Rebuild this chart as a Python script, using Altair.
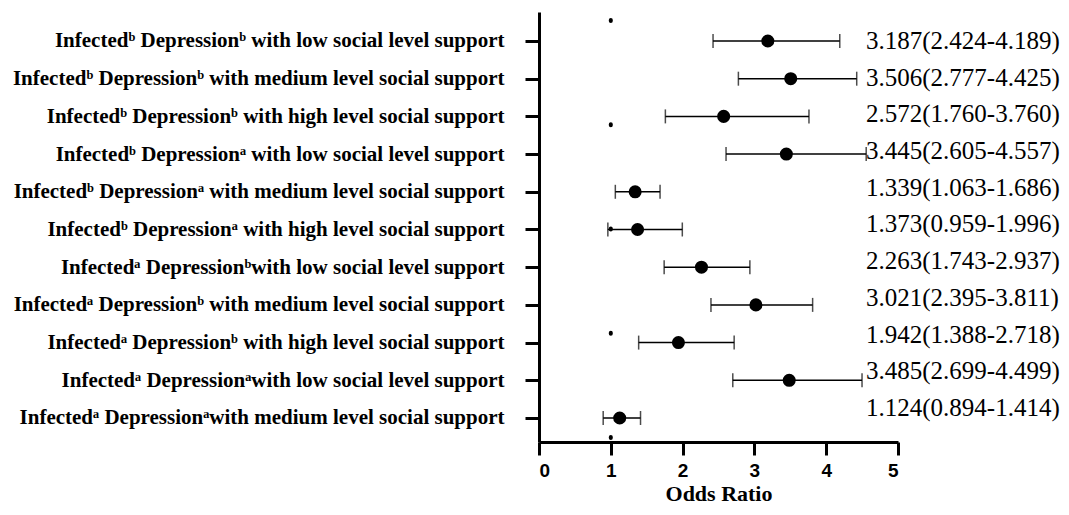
import altair as alt
import pandas as pd

labels = [
    "Infectedᵇ Depressionᵇ with low social level support",
    "Infectedᵇ Depressionᵇ with medium level social support",
    "Infectedᵇ Depressionᵇ with high level social support",
    "Infectedᵇ Depressionᵃ with low social level support",
    "Infectedᵇ Depressionᵃ with medium level social support",
    "Infectedᵇ Depressionᵃ with high level social support",
    "Infectedᵃ Depressionᵇwith low social level support",
    "Infectedᵃ Depressionᵇ with medium level social support",
    "Infectedᵃ Depressionᵇ with high level social support",
    "Infectedᵃ Depressionᵃwith low social level support",
    "Infectedᵃ Depressionᵃwith medium level social support",
]
odds = [3.187, 3.506, 2.572, 3.445, 1.339, 1.373, 2.263, 3.021, 1.942, 3.485, 1.124]
lower = [2.424, 2.777, 1.760, 2.605, 1.063, 0.959, 1.743, 2.395, 1.388, 2.699, 0.894]
upper = [4.189, 4.425, 3.760, 4.557, 1.686, 1.996, 2.937, 3.811, 2.718, 4.499, 1.414]
x_ticks = [0, 1, 2, 3, 4, 5]

df = pd.DataFrame({
    "label": labels,
    "or": odds,
    "lo": lower,
    "hi": upper,
})
df["txt"] = [f"{o:.3f}({l:.3f}-{h:.3f})" for o, l, h in zip(odds, lower, upper)]

serif = "Liberation Serif"
sans = "Liberation Sans"

xscale = alt.Scale(domain=[0, 5], nice=False, zero=True)
yscale = alt.Scale(type="point", padding=0.703, align=0.547)

x_axis = alt.Axis(
    values=x_ticks, format="d", grid=False,
    domainColor="black", domainWidth=3, tickColor="black", tickWidth=3, tickSize=13,
    labelFont=sans, labelFontWeight="bold", labelFontSize=19, labelColor="black",
    labelPadding=6, title="Odds Ratio", titleFont=serif, titleFontWeight="bold",
    titleFontSize=22, titleColor="black", titlePadding=3,
)
y_axis = alt.Axis(
    title=None, grid=False,
    domainColor="black", domainWidth=3, tickColor="black", tickWidth=3, tickSize=14,
    labelFont=serif, labelFontWeight="bold", labelFontSize=21, labelColor="black",
    labelPadding=21, labelLimit=800,
)

base = alt.Chart(df)

ref = alt.Chart(df.head(1)).mark_rule(
    color="black", strokeWidth=4, strokeCap="round",
    strokeDash=[1, 103.25], strokeDashOffset=96.25,
).encode(
    x=alt.datum(1, scale=xscale),
    y=alt.value(0),
    y2=alt.value(430),
)

bars = base.mark_rule(color="black", strokeWidth=1.5).encode(
    x=alt.X("lo:Q", scale=xscale, axis=x_axis),
    x2="hi:Q",
    y=alt.Y("label:N", sort=labels, scale=yscale, axis=y_axis),
)
caps_lo = base.mark_tick(color="black", thickness=1.5, size=14, orient="vertical").encode(
    x=alt.X("lo:Q", scale=xscale),
    y=alt.Y("label:N", sort=labels, scale=yscale),
)
caps_hi = base.mark_tick(color="black", thickness=1.5, size=14, orient="vertical").encode(
    x=alt.X("hi:Q", scale=xscale),
    y=alt.Y("label:N", sort=labels, scale=yscale),
)
points = base.mark_circle(color="black", opacity=1, size=170).encode(
    x=alt.X("or:Q", scale=xscale),
    y=alt.Y("label:N", sort=labels, scale=yscale),
)

main = alt.layer(ref, bars, caps_lo, caps_hi, points)

text = base.mark_text(
    font=serif, fontSize=25, color="black", align="left", baseline="middle",
).encode(
    x=alt.value(327),
    y=alt.Y("label:N", sort=labels,
            scale=alt.Scale(type="point", padding=0.858, align=0.46), axis=None),
    text="txt:N",
)

chart = alt.layer(main, text).resolve_scale(y="independent").properties(
    width=359, height=430,
    autosize=alt.AutoSizeParams(type="none"),
    padding={"left": 531, "top": 4, "right": 163, "bottom": 65},
).configure_view(stroke=None)

chart.save("out.html", embed_options={"renderer": "svg", "actions": False})
